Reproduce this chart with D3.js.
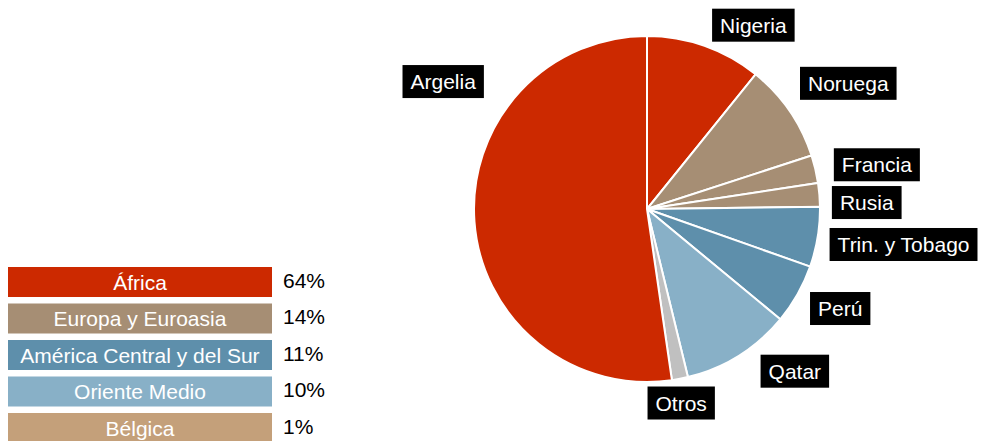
<!DOCTYPE html>
<meta charset="utf-8">
<style>
body { margin: 0; background: #fff; }
text { font-family: "Liberation Sans", Arial, sans-serif; }
</style>
<svg width="981" height="441"></svg>
<script src="https://d3js.org/d3.v7.min.js"></script>
<script>

// slices, clockwise from 12 o'clock
var countries = ["Nigeria", "Noruega", "Francia", "Rusia", "Trin. y Tobago", "Perú", "Qatar", "Otros", "Argelia"];
var shares    = [10.8, 9.2, 2.6, 2.2, 5.6, 5.6, 10.2, 1.5, 52.3];
var regionOf  = ["África", "Europa y Euroasia", "Europa y Euroasia", "Europa y Euroasia",
                 "América Central y del Sur", "América Central y del Sur", "Oriente Medio", "Otros", "África"];

// legend
var regions       = ["África", "Europa y Euroasia", "América Central y del Sur", "Oriente Medio", "Bélgica"];
var regionPercent = ["64%", "14%", "11%", "10%", "1%"];

var color = d3.scaleOrdinal()
    .domain(["África", "Europa y Euroasia", "América Central y del Sur", "Oriente Medio", "Bélgica", "Otros"])
    .range(["#cc2900", "#a68e74", "#5e8fab", "#88b0c7", "#c4a07a", "#c0c0c0"]);

var svg = d3.select("svg");

var cx = 647, cy = 209, radius = 173;

var slices = countries.map(function(c, i) { return {name: c, value: shares[i], region: regionOf[i]}; });

var pie = d3.pie().sort(null).value(function(d) { return d.value; });
var arc = d3.arc().innerRadius(0).outerRadius(radius);
var arcs = pie(slices);

var g = svg.append("g").attr("transform", "translate(" + cx + "," + cy + ")");

g.selectAll("path")
    .data(arcs)
  .enter().append("path")
    .attr("d", arc)
    .attr("fill", function(d) { return color(d.data.region); })
    .attr("stroke", "#fff")
    .attr("stroke-width", 2);

// labels sit just outside the pie on the slice's mid angle;
// most were nudged by hand in the original (degrees, radius)
var labelNudge = {
  "Nigeria": [19.5, 195],
  "Noruega": [50.6, 198],
  "Argelia": [308, 207],
  "Rusia": [88, 185],
  "Trin. y Tobago": [101, 186],
  "Perú": [121.4, 191],
  "Qatar": [145, 198],
  "Otros": [170, 197]
};
var labelR = 192;

arcs.forEach(function(d) {
  var a = (d.startAngle + d.endAngle) / 2, r = labelR;
  if (labelNudge[d.data.name]) {
    a = labelNudge[d.data.name][0] * Math.PI / 180;
    r = labelNudge[d.data.name][1];
  }
  var x = Math.sin(a) * r, y = -Math.cos(a) * r;
  var lg = g.append("g");
  var t = lg.append("text")
      .attr("y", y)
      .attr("dy", "0.36em")
      .attr("fill", "#fff")
      .style("font-size", "21px")
      .text(d.data.name);
  var w = t.node().getComputedTextLength();
  var pad = 8;
  var left;
  var s = Math.sin(a);
  if (Math.abs(s) < 0.3) left = x - w / 2 - pad;
  else if (s > 0) left = x;
  else left = x - w - 2 * pad;
  t.attr("x", left + pad);
  lg.insert("rect", "text")
      .attr("x", left)
      .attr("y", y - 16.5)
      .attr("width", w + 2 * pad)
      .attr("height", 33)
      .attr("fill", "#000");
});

// legend
var legY = d3.scaleBand().domain(regions).range([267, 443]).paddingInner(0.178).paddingOuter(0);
var leg = svg.append("g");

leg.selectAll("rect")
    .data(regions)
  .enter().append("rect")
    .attr("x", 8)
    .attr("y", function(d) { return legY(d); })
    .attr("width", 264)
    .attr("height", legY.bandwidth())
    .attr("fill", function(d) { return color(d); });

leg.selectAll("text.name")
    .data(regions)
  .enter().append("text")
    .attr("class", "name")
    .attr("x", 140)
    .attr("y", function(d) { return legY(d) + legY.bandwidth() / 2; })
    .attr("dy", "0.36em")
    .attr("text-anchor", "middle")
    .attr("fill", "#fff")
    .style("font-size", "21px")
    .text(function(d) { return d; });

leg.selectAll("text.pct")
    .data(regions)
  .enter().append("text")
    .attr("class", "pct")
    .attr("x", 283)
    .attr("y", function(d) { return legY(d) + legY.bandwidth() / 2 - 2; })
    .attr("dy", "0.36em")
    .attr("fill", "#000")
    .style("font-size", "21px")
    .text(function(d, i) { return regionPercent[i]; });

</script>
